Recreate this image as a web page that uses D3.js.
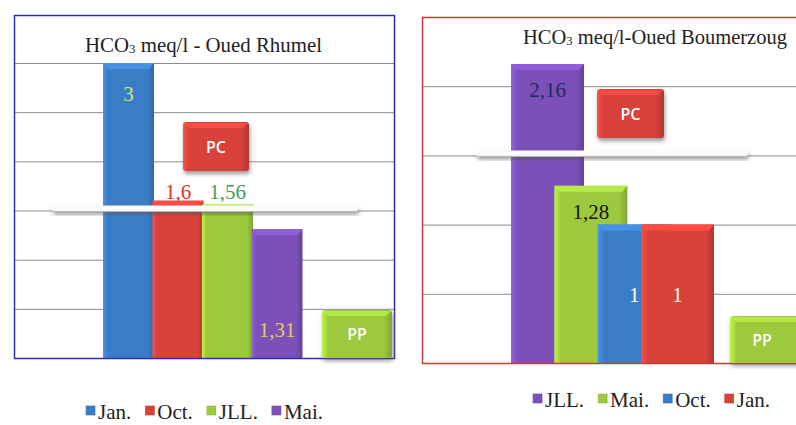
<!DOCTYPE html>
<html>
<head>
<meta charset="utf-8">
<script src="https://cdn.jsdelivr.net/npm/d3@7"></script>
<style>
  body { margin: 0; background: #fff; }
  svg { display: block; }
</style>
</head>
<body>
<svg id="chart" width="796" height="425"></svg>
<script>
// HCO3 (meq/l) — Oued Rhumel
const rhumelMonths = ["Jan.", "Oct.", "JLL.", "Mai."];
const rhumelValues = [3, 1.6, 1.56, 1.31];
const rhumelLabels = ["3", "1,6", "1,56", "1,31"];
const rhumelTicks = [0.5, 1, 1.5, 2, 2.5, 3];

// HCO3 (meq/l) — Oued Boumerzoug
const boumMonths = ["JLL.", "Mai.", "Oct.", "Jan."];
const boumValues = [2.16, 1.28, 1, 1];
const boumLabels = ["2,16", "1,28", "1", "1"];
const boumTicks = [0.5, 1, 1.5, 2, 2.5];

const BLUE = "#3b7cc6", RED = "#d8423b", GREEN = "#9cc93d", PURPLE = "#7b50b8";
const SERIF = "'Liberation Serif','Times New Roman',serif";
const SANS = "'Open Sans','Liberation Sans',sans-serif";

const svg = d3.select("#chart");
const defs = svg.append("defs");

// bevelled fills
function bevel(id, c) {
  const g = defs.append("linearGradient").attr("id", id).attr("x1", 0).attr("x2", 1).attr("y1", 0).attr("y2", 0);
  const base = d3.color(c);
  g.append("stop").attr("offset", 0).attr("stop-color", base.brighter(0.55));
  g.append("stop").attr("offset", 0.09).attr("stop-color", base);
  g.append("stop").attr("offset", 0.88).attr("stop-color", base);
  g.append("stop").attr("offset", 1).attr("stop-color", base.darker(0.55));
}
[["gBlue", BLUE], ["gRed", RED], ["gGreen", GREEN], ["gPurple", PURPLE]].forEach(d => bevel(d[0], d[1]));
const fillOf = { [BLUE]: "url(#gBlue)", [RED]: "url(#gRed)", [GREEN]: "url(#gGreen)", [PURPLE]: "url(#gPurple)" };

const shadow = defs.append("filter").attr("id", "shadow").attr("x", "-20%").attr("y", "-50%").attr("width", "140%").attr("height", "220%");
shadow.append("feDropShadow").attr("dx", 1).attr("dy", 3).attr("stdDeviation", 2)
  .attr("flood-color", "#555").attr("flood-opacity", 0.6);

function drawChart(cfg) {
  const g = svg.append("g");
  const y = d3.scaleLinear().domain([0, cfg.max]).range([cfg.bottom, cfg.top]);
  const x = d3.scaleLinear().domain([0, cfg.values.length - 1]).range([cfg.x0, cfg.x1]);

  // gridlines
  const grid = g.append("g").attr("transform", `translate(${cfg.left},0)`)
    .call(d3.axisRight(y).tickValues(cfg.ticks).tickSize(cfg.right - cfg.left).tickFormat(""));
  grid.select(".domain").remove();
  grid.selectAll("line").attr("stroke", "#8c8c8c").attr("stroke-width", 1);

  // bars
  const bars = g.selectAll("g.bar").data(cfg.values).join("g").attr("class", "bar");
  bars.append("rect")
    .attr("x", (d, i) => x(i)).attr("y", d => y(d))
    .attr("width", cfg.barW).attr("height", d => y(0) - y(d))
    .attr("fill", (d, i) => fillOf[cfg.colors[i]]);
  bars.append("path")
    .attr("d", (d, i) => {
      const x0 = x(i), x1 = x(i) + cfg.barW, t = y(d);
      return `M${x0},${t}H${x1}L${x1 - 5},${t + 6}H${x0 + 5}Z`;
    })
    .attr("fill", (d, i) => d3.color(cfg.colors[i]).brighter(0.45));

  // horizontal shelf
  const sy = y(cfg.shelfLevel);
  g.append("rect").attr("x", cfg.shelf[0]).attr("y", sy - 5).attr("width", cfg.shelf[1] - cfg.shelf[0]).attr("height", 6)
    .attr("rx", 3).attr("fill", "#fbfbfb").attr("filter", "url(#shadow)");
  g.append("line").attr("x1", cfg.shelf[0] + 2).attr("x2", cfg.shelf[1] - 2).attr("y1", sy + 1).attr("y2", sy + 1)
    .attr("stroke", "#b5b5b5").attr("stroke-width", 1);

  // value labels
  g.selectAll("text.val").data(cfg.values).join("text").attr("class", "val")
    .attr("x", (d, i) => x(i) + cfg.barW / 2)
    .attr("y", (d, i) => {
      const p = cfg.labelPos[i];
      if (p === "above") return cfg.aboveY;
      if (p === "top") return y(d) + cfg.topOffset;
      if (p === "bottom") return y(0) - 21;
      return (y(d) + y(0)) / 2 + 8;
    })
    .attr("text-anchor", "middle").attr("font-family", SERIF).attr("font-size", 21)
    .attr("fill", (d, i) => cfg.labelColors[i])
    .text((d, i) => cfg.labels[i]);

  // frame
  g.append("rect").attr("x", cfg.left + 0.5).attr("y", cfg.frameTop + 0.5)
    .attr("width", cfg.right - cfg.left).attr("height", cfg.bottom - cfg.frameTop)
    .attr("fill", "none").attr("stroke", cfg.frame).attr("stroke-width", 1.5);

  // title
  const t = g.append("text").attr("x", cfg.title.x).attr("y", cfg.title.y)
    .attr("font-family", SERIF).attr("font-size", 21).attr("fill", "#222")
    .attr("textLength", cfg.title.w).attr("lengthAdjust", "spacingAndGlyphs");
  t.append("tspan").text("HCO");
  t.append("tspan").attr("font-size", 13).attr("dy", 1).text("3");
  t.append("tspan").attr("dy", -1).text(cfg.title.text);

  // PC / PP tags
  cfg.tags.forEach(tag => {
    const tg = g.append("g");
    tg.append("rect").attr("x", tag.x).attr("y", tag.y).attr("width", tag.w).attr("height", tag.h)
      .attr("rx", 3).attr("fill", fillOf[tag.color]).attr("filter", "url(#shadow)");
    tg.append("path")
      .attr("d", `M${tag.x + 1},${tag.y + 1}H${tag.x + tag.w - 1}L${tag.x + tag.w - 6},${tag.y + 6}H${tag.x + 6}Z`)
      .attr("fill", d3.color(tag.color).brighter(0.4));
    tg.append("text").attr("x", tag.x + (tag.tx || tag.w / 2)).attr("y", tag.y + tag.h / 2 + 6)
      .attr("text-anchor", "middle").attr("font-family", SANS).attr("font-weight", 600)
      .attr("font-size", 16).attr("fill", "#fff").text(tag.text);
  });

  // legend
  let lx = cfg.legend.x;
  cfg.months.forEach((m, i) => {
    g.append("rect").attr("x", lx).attr("y", cfg.legend.y - 13).attr("width", 9).attr("height", 9)
      .attr("fill", fillOf[cfg.colors[i]]).attr("stroke", d3.color(cfg.colors[i]).darker(0.3)).attr("stroke-width", 0.6);
    const tx = g.append("text").attr("x", lx + 12).attr("y", cfg.legend.y)
      .attr("font-family", SERIF).attr("font-size", 21).attr("fill", "#222").text(m);
    lx = lx + 12 + tx.node().getComputedTextLength() + 14;
  });
}

drawChart({
  months: rhumelMonths, values: rhumelValues, labels: rhumelLabels, ticks: rhumelTicks, max: 3,
  colors: [BLUE, RED, GREEN, PURPLE],
  labelColors: ["#d6e86e", "#e0302c", "#3f9c58", "#e8cb5c"],
  labelPos: ["top", "above", "above", "bottom"], topOffset: 38, aboveY: 199,
  left: 14, right: 394, top: 63, frameTop: 15, bottom: 358, frame: "#2f2fb4",
  x0: 103, x1: 251.5, barW: 51,
  shelfLevel: 1.5, shelf: [52, 358],
  title: { x: 85, y: 52, w: 237, text: " meq/l - Oued Rhumel" },
  tags: [
    { x: 183, y: 122, w: 66, h: 49, color: RED, text: "PC" },
    { x: 322, y: 310, w: 70, h: 48, color: GREEN, text: "PP" }
  ],
  legend: { x: 86, y: 419 }
});

drawChart({
  months: boumMonths, values: boumValues, labels: boumLabels, ticks: boumTicks, max: 2.5,
  colors: [PURPLE, GREEN, BLUE, RED],
  labelColors: ["#1f2a5e", "#151515", "#ffffff", "#ffffff"],
  labelPos: ["top", "top", "mid", "mid"], topOffset: 33, aboveY: 0,
  left: 422, right: 830, top: 17, frameTop: 17, bottom: 363, frame: "#cc3a3a",
  x0: 511, x1: 641, barW: 73,
  shelfLevel: 1.5, shelf: [476, 748],
  title: { x: 523, y: 44, w: 264, text: " meq/l-Oued Boumerzoug" },
  tags: [
    { x: 597, y: 89, w: 67, h: 49, color: RED, text: "PC" },
    { x: 730, y: 316, w: 80, h: 47, color: GREEN, text: "PP", tx: 32 }
  ],
  legend: { x: 533, y: 407 }
});
</script>
</body>
</html>
